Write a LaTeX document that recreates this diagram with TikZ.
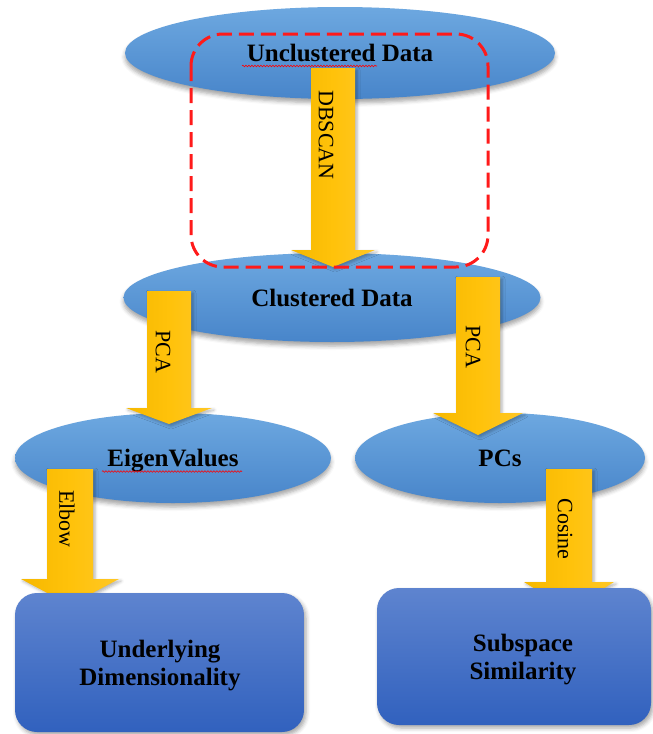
\documentclass[tikz,border=0pt]{standalone}
\usepackage{fontspec}
\setmainfont{Liberation Serif}
\usetikzlibrary{shapes.geometric,shadows.blur,decorations.pathmorphing,calc}
\definecolor{ellTop}{HTML}{6DA8E0}
\definecolor{ellBot}{HTML}{4885CA}
\definecolor{boxTop}{HTML}{5E84CF}
\definecolor{boxBot}{HTML}{3161BE}
\definecolor{arrL}{HTML}{F6B800}
\definecolor{arrM}{HTML}{FFC20A}
\definecolor{arrR}{HTML}{FFC726}
\definecolor{dashred}{HTML}{FF1A1A}
\tikzset{
  ellnode/.style={ellipse, inner sep=0pt, top color=ellTop, bottom color=ellBot,
    blur shadow={shadow xshift=0pt, shadow yshift=-4pt, shadow blur radius=4pt, shadow opacity=35},
    font=\fontsize{25}{29}\selectfont\bfseries, text height=17pt, text depth=0pt},
  boxnode/.style={rectangle, rounded corners=22pt, inner sep=0pt, top color=boxTop, bottom color=boxBot,
    blur shadow={shadow xshift=2pt, shadow yshift=-3pt, shadow blur radius=4pt, shadow opacity=35}},
  boxtext/.style={align=center, inner sep=0pt, font=\fontsize{25}{28}\selectfont\bfseries},
  arrowbody/.style={left color=arrL, right color=arrR, middle color=arrM,
    blur shadow={shadow xshift=2pt, shadow yshift=-2pt, shadow blur radius=3pt, shadow opacity=30}},
  arrlabel/.style={rotate=-90, inner sep=0pt, font=\fontsize{22}{22}\selectfont},
  reddash/.style={draw=dashred, line width=3pt, dash pattern=on 15pt off 7pt, rounded corners=32pt},
  squig/.style={draw=red, line width=0.6pt, decorate, decoration={snake, amplitude=0.8pt, segment length=3pt}}
}
% #1 start coord, #2 end (tip) coord, #3 head length, #4 shaft half width, #5 head half width
\newcommand{\blockarr}[5]{%
  \path[arrowbody] let \p1=(#1), \p2=(#2) in
    (\x1-#4,\y1) -- (\x1+#4,\y1) -- (\x1+#4,\y2+#3) -- (\x1+#5,\y2+#3) -- (\x2,\y2)
    -- (\x1-#5,\y2+#3) -- (\x1-#4,\y2+#3) -- cycle;}
\begin{document}
\begin{tikzpicture}[x=1pt,y=-1pt]
\useasboundingbox (0,0) rectangle (653,734);
% ellipses top two
\node[ellnode, minimum width=430pt, minimum height=92pt] (uc) at (340,53) {Unclustered Data};
\node[ellnode, minimum width=417pt, minimum height=89pt] (cd) at (332,297.5) {Clustered Data};
% DBSCAN arrow
\coordinate (dbs) at (333,68);
\coordinate (dbe) at (333,267);
\blockarr{dbs}{dbe}{17pt}{22pt}{42pt}
% lower ellipses
\node[ellnode, minimum width=316pt, minimum height=90pt] (ev) at (173,458) {EigenValues};
\node[ellnode, minimum width=290pt, minimum height=90pt] (pc) at (500,458) {PCs};
% PCA arrows
\coordinate (pls) at (169,291);
\coordinate (ple) at (169,424);
\blockarr{pls}{ple}{16pt}{22pt}{43pt}
\coordinate (prs) at (478,277);
\coordinate (pre) at (478,435);
\blockarr{prs}{pre}{22pt}{22pt}{45pt}
% Elbow and Cosine arrows
\coordinate (els) at (70,469);
\coordinate (ele) at (70,605);
\blockarr{els}{ele}{26pt}{23pt}{49pt}
\coordinate (cos) at (569,469);
\coordinate (coe) at (569,610);
\blockarr{cos}{coe}{28pt}{23pt}{45pt}
% boxes
\node[boxnode, minimum width=289pt, minimum height=139pt] (ud) at (159.5,662.5) {};
\node[boxnode, minimum width=274pt, minimum height=137pt] (ss) at (514,656.5) {};
\node[boxtext] (udt) at (160,666) {Underlying\\Dimensionality};
\node[boxtext] (sst) at (523,660) {Subspace\\Similarity};
% spell-check squiggles
\draw[squig] (242,66) -- (377,66);
\draw[squig] (102,471.5) -- (242,471.5);
% dashed highlight
\draw[reddash] (191,34) rectangle (488,267);
% arrow labels
\node[arrlabel] (lab1) at (326,135) {DBSCAN};
\node[arrlabel] (lab2) at (163,352) {PCA};
\node[arrlabel] (lab3) at (473,347) {PCA};
\node[arrlabel] (lab4) at (67,519) {Elbow};
\node[arrlabel] (lab5) at (565,529) {Cosine};
\end{tikzpicture}
\end{document}
